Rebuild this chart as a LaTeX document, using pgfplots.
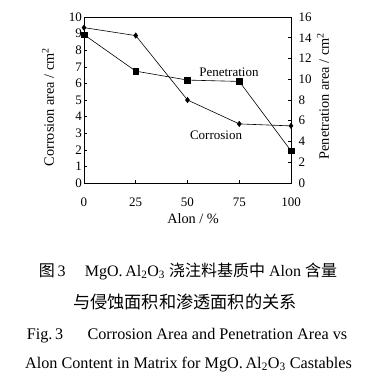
\documentclass[border=0pt]{standalone}
\usepackage{pgfplots}
\pgfplotsset{compat=1.18}
\usepackage{fontspec}
\setmainfont{Liberation Serif}
\newfontfamily\cjk{Noto Sans CJK SC}
\begin{document}
\begin{tikzpicture}[x=1pt,y=1pt]
\useasboundingbox (0,0) rectangle (389,-383);
\begin{axis}[
  at={(84pt,-183pt)}, anchor=south west,
  scale only axis, width=207pt, height=166pt,
  xmin=0, xmax=100, ymin=0, ymax=10,
  xtick={0,25,50,75,100}, ytick={0,1,...,10},
  xtick pos=bottom, ytick pos=left,
  tick align=inside, major tick length=3pt,
  axis line style={line width=0.8pt}, tick style={line width=0.6pt, black},
  /pgf/number format/assume math mode=true,
  tick label style={font=\fontsize{13}{13}\selectfont},
  xticklabel style={yshift=-11.5pt},
  yticklabel style={xshift=1.5pt},
  xlabel={Alon / \%}, ylabel={Corrosion area / cm\textsuperscript{2}},
  label style={font=\fontsize{14.3}{14.3}\selectfont},
  xlabel style={at={(axis description cs:0.527,-0.215)}, anchor=center},
  ylabel style={at={(axis description cs:-0.174,0.458)}, anchor=center},
  clip=false,
]
\addplot[black, line width=0.6pt, mark=diamond*, mark size=2.6pt] coordinates {
  (0,9.36) (25,8.88) (50,5.0) (75,3.56) (100,3.44)};
\node[font=\fontsize{13}{13}\selectfont] at (axis cs:70,6.7) {Penetration};
\node[font=\fontsize{13}{13}\selectfont] at (axis cs:63.8,2.9) {Corrosion};
\end{axis}
\begin{axis}[
  at={(84pt,-183pt)}, anchor=south west,
  scale only axis, width=207pt, height=166pt,
  xmin=0, xmax=100, ymin=0, ymax=16,
  axis x line=none, axis y line*=right,
  ytick={0,2,...,16},
  tick align=inside, major tick length=3pt,
  axis line style={line width=0.8pt, -}, tick style={line width=0.6pt, black},
  /pgf/number format/assume math mode=true,
  tick label style={font=\fontsize{13}{13}\selectfont},
  yticklabel style={xshift=4pt},
  ylabel={Penetration area / cm\textsuperscript{2}},
  label style={font=\fontsize{14.3}{14.3}\selectfont},
  ylabel style={at={(axis description cs:1.155,0.524)}, anchor=center},
  clip=false,
]
\addplot[black, line width=0.6pt, mark=square*, mark size=2.8pt] coordinates {
  (0,14.3) (25,10.78) (50,9.92) (75,9.79) (100,3.1)};
\end{axis}
\node[anchor=base, font=\fontsize{16}{16}\selectfont] at (188,-276)
  {{\cjk 图}\,3\hspace{1.2em}MgO.\,Al\textsubscript{2}O\textsubscript{3} {\cjk 浇注料基质中} Alon {\cjk 含量}};
\node[anchor=base, font=\fontsize{17.2}{17.2}\selectfont\cjk] at (185,-308)
  {与侵蚀面积和渗透面积的关系};
\node[anchor=base, font=\fontsize{16.2}{16.2}\selectfont] at (187,-339)
  {Fig.\,3\hspace{1.5em}Corrosion Area and Penetration Area vs};
\node[anchor=base, font=\fontsize{16.2}{16.2}\selectfont] at (188.5,-368)
  {Alon Content in Matrix for MgO.\,Al\textsubscript{2}O\textsubscript{3} Castables};
\end{tikzpicture}
\end{document}
